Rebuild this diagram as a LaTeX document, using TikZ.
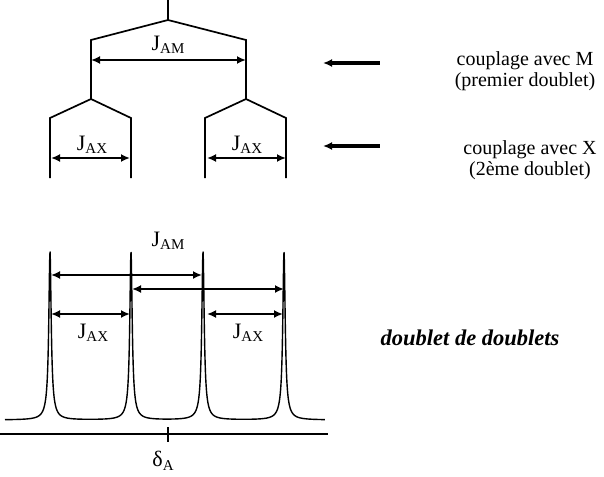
\documentclass[tikz,border=0pt]{standalone}
\usepackage{fontspec}
\setmainfont{Liberation Serif}
\usetikzlibrary{arrows.meta, positioning, calc}

\newcommand{\jlab}[1]{J\raisebox{-0.35ex}{\fontsize{15}{15}\selectfont #1}}

\begin{document}
\begin{tikzpicture}[
  x=1pt, y=-1pt,
  font=\fontsize{20}{21}\selectfont,
  >={Latex[length=9pt,width=8pt]},
  tree/.style   ={line width=1.7pt},
  jarr/.style   ={<->, line width=2.8pt},
  pointer/.style={<-, line width=3.2pt},
  jtxt/.style   ={inner sep=0pt, font=\fontsize{22}{24}\selectfont},
  note/.style   ={align=center, inner sep=0pt, anchor=base},
  spec/.style   ={line width=1.4pt, line join=round},
  declare function={lor(\t,\c,\w)=\w*\w/((\t-\c)^2+\w*\w);},
]
\useasboundingbox (0,0) rectangle (604,476);

% --- Splitting tree (top left) ---
\coordinate (root) at (168,0);
\coordinate (apex) at (168,20);
\coordinate (mL)   at (91,40);
\coordinate (mR)   at (246,40);
\coordinate (xL)   at (91,99);
\coordinate (xR)   at (246,99);
\draw[tree] (root) -- (apex);
\draw[tree] (xL) -- (mL) -- (apex) -- (mR) -- (xR);
\foreach \n in {xL, xR} {
  \draw[tree] ($(\n)+(-41,79)$) -- ($(\n)+(-41,19)$) -- (\n)
              -- ($(\n)+(40,19)$) -- ($(\n)+(40,79)$);
}
\coordinate (amL) at (91,60);
\coordinate (amR) at (246,60);
\draw[jarr] (amL) -- (amR);
\node[jtxt] (tam) at (168,45) {\jlab{AM}};
\coordinate (axLa) at (51,158);
\coordinate (axLb) at (130,158);
\coordinate (axRa) at (207,158);
\coordinate (axRb) at (286,158);
\draw[jarr] (axLa) -- (axLb);
\draw[jarr] (axRa) -- (axRb);
\node[jtxt] (taxL) at (92,145) {\jlab{AX}};
\node[jtxt] (taxR) at (247,145) {\jlab{AX}};

% --- Notes on the right ---
\node[note] (nM) at (525,87) {couplage avec M\\(premier doublet)};
\node[note] (nX) at (530,175) {couplage avec X\\(2ème doublet)};
\coordinate (pMa) at (380,63);
\coordinate (pMb) at (323,63);
\coordinate (pXa) at (380,146);
\coordinate (pXb) at (323,146);
\draw[pointer] (pMb) -- (pMa);
\draw[pointer] (pXb) -- (pXa);

% --- Spectrum: four lines ---
\draw[spec] plot[domain=0.5:32.5, samples=1201]
  (10*\x, {420 - 156*(lor(\x,5.0,0.14)+lor(\x,13.1,0.14)+lor(\x,20.3,0.14)+lor(\x,28.4,0.14))
               - 12*(lor(\x,5.0,0.45)+lor(\x,13.1,0.45)+lor(\x,20.3,0.45)+lor(\x,28.4,0.45))});
\coordinate (axA) at (0,434);
\coordinate (axB) at (328,434);
\draw[line width=1.5pt] (axA) -- (axB);
\coordinate (tkA) at (168,427);
\coordinate (tkB) at (168,442);
\draw[line width=1.5pt] (tkA) -- (tkB);
\node[jtxt] (dA) at (163,461) {δ\raisebox{-0.35ex}{\fontsize{15}{15}\selectfont A}};

\coordinate (s1) at (51,275);
\coordinate (s3) at (202,275);
\coordinate (s2) at (132,289);
\coordinate (s4) at (284,289);
\draw[jarr] (s1) -- (s3);
\draw[jarr] (s2) -- (s4);
\node[jtxt] (sam) at (168,241) {\jlab{AM}};
\coordinate (q1) at (51,314);
\coordinate (q2) at (130,314);
\coordinate (q3) at (207,314);
\coordinate (q4) at (283,314);
\draw[jarr] (q1) -- (q2);
\draw[jarr] (q3) -- (q4);
\node[jtxt] (saxL) at (93,333) {\jlab{AX}};
\node[jtxt] (saxR) at (248,333) {\jlab{AX}};

\node[font=\fontsize{22.5}{24}\selectfont\bfseries\itshape, inner sep=0pt] (dd) at (470,338) {doublet de doublets};

\end{tikzpicture}
\end{document}
